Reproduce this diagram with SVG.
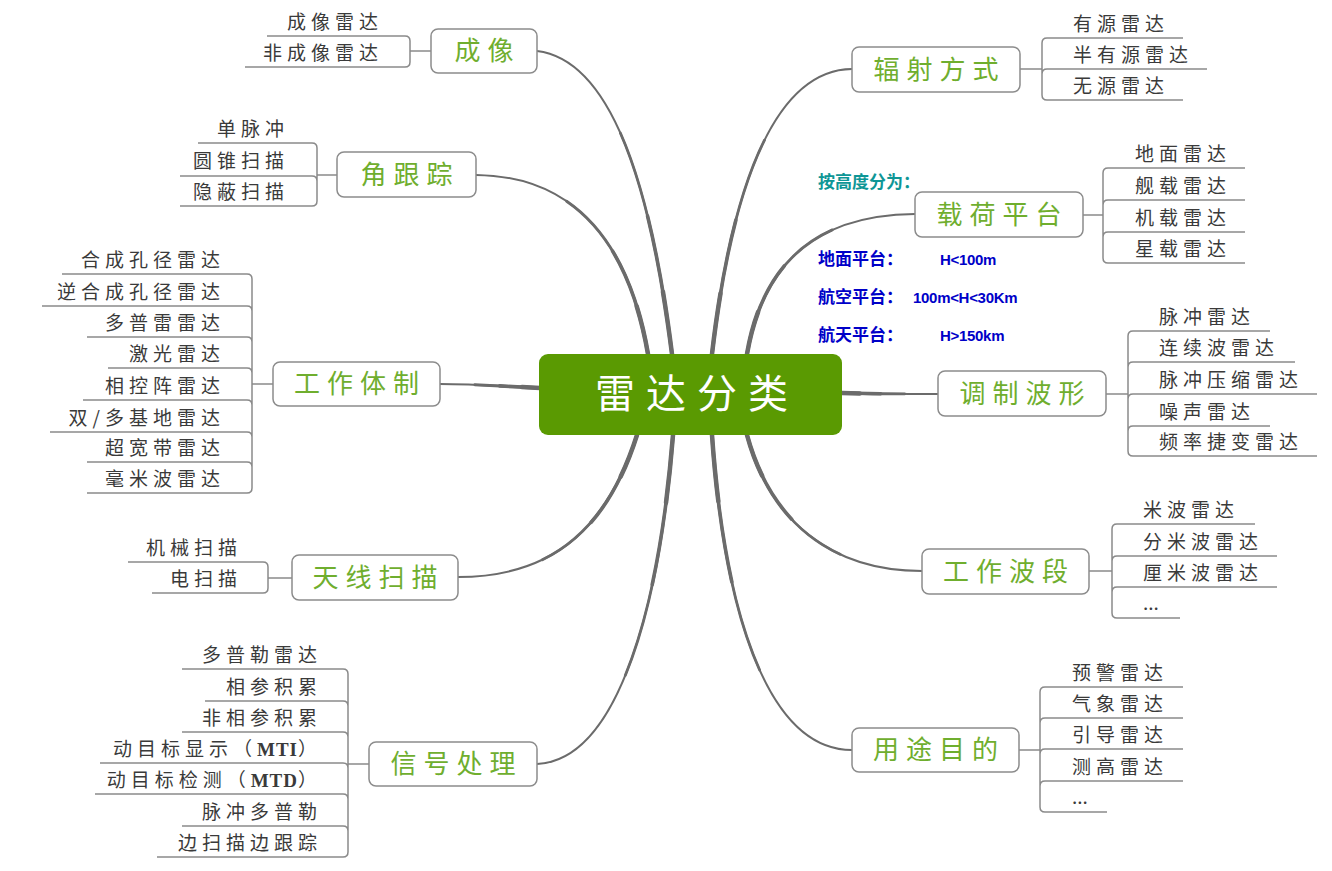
<svg xmlns="http://www.w3.org/2000/svg" xmlns:xlink="http://www.w3.org/1999/xlink" width="1332" height="871" viewBox="0 0 1332 871">
<style>
.bg{fill:#ffffff}
.main{fill:none;stroke:#6b6b6b;stroke-linecap:round}
.w1{stroke-width:2}
.w2{stroke-width:2.8;stroke-dasharray:65 300}
.w3{stroke-width:3.6;stroke-dasharray:40 300}
.w4{stroke-width:4.5;stroke-dasharray:18 300}
.br{fill:none;stroke:#8a8a8a;stroke-width:1.5}
.node rect{fill:#ffffff;stroke:#8c8c8c;stroke-width:1.5}
.nt{font-family:"Noto Sans CJK SC","Noto Sans",sans-serif;font-size:26px;letter-spacing:7px;fill:#6fae2e;text-anchor:middle}
.lf{font-family:"Noto Sans CJK SC","Noto Sans",sans-serif;font-size:19px;letter-spacing:5px;fill:#3a3a3a}
.le{text-anchor:end}
.dots{letter-spacing:0px}
.ser{font-family:"Liberation Serif",serif;font-weight:bold;letter-spacing:1px}
.ann{font-family:"Noto Sans CJK SC","Noto Sans",sans-serif;font-size:17px;font-weight:bold}
.annl{font-family:"Liberation Sans",sans-serif;font-size:15px;font-weight:bold;letter-spacing:-0.3px}
.teal{fill:#0e9696}
.blue{fill:#0000c8}
</style>
<defs>
<path id="p1" pathLength="100" d="M672,354 C650,180 610,60 537,51"/>
<path id="p2" pathLength="100" d="M648,354 C630,250 580,176 476,175"/>
<path id="p3" pathLength="100" d="M540,388 C500,386 470,384 440,384"/>
<path id="p4" pathLength="100" d="M637,435 C610,520 560,577 458,577"/>
<path id="p5" pathLength="100" d="M673,435 C660,600 620,760 537,764"/>
<path id="p6" pathLength="100" d="M712,354 C730,200 770,70 852,69"/>
<path id="p7" pathLength="100" d="M747,354 C760,280 800,215 915,214"/>
<path id="p8" pathLength="100" d="M842,393 C880,394 910,394 938,394"/>
<path id="p9" pathLength="100" d="M747,435 C770,520 830,571 922,571"/>
<path id="p10" pathLength="100" d="M712,435 C725,620 770,750 852,750"/>
</defs>
<rect class="bg" x="0" y="0" width="1332" height="871"/>

<g id="connectors">
<g class="main">
<use xlink:href="#p1" class="w1"/><use xlink:href="#p1" class="w2"/><use xlink:href="#p1" class="w3"/><use xlink:href="#p1" class="w4"/>
<use xlink:href="#p2" class="w1"/><use xlink:href="#p2" class="w2"/><use xlink:href="#p2" class="w3"/><use xlink:href="#p2" class="w4"/>
<use xlink:href="#p3" class="w1"/><use xlink:href="#p3" class="w2"/><use xlink:href="#p3" class="w3"/><use xlink:href="#p3" class="w4"/>
<use xlink:href="#p4" class="w1"/><use xlink:href="#p4" class="w2"/><use xlink:href="#p4" class="w3"/><use xlink:href="#p4" class="w4"/>
<use xlink:href="#p5" class="w1"/><use xlink:href="#p5" class="w2"/><use xlink:href="#p5" class="w3"/><use xlink:href="#p5" class="w4"/>
<use xlink:href="#p6" class="w1"/><use xlink:href="#p6" class="w2"/><use xlink:href="#p6" class="w3"/><use xlink:href="#p6" class="w4"/>
<use xlink:href="#p7" class="w1"/><use xlink:href="#p7" class="w2"/><use xlink:href="#p7" class="w3"/><use xlink:href="#p7" class="w4"/>
<use xlink:href="#p8" class="w1"/><use xlink:href="#p8" class="w2"/><use xlink:href="#p8" class="w3"/><use xlink:href="#p8" class="w4"/>
<use xlink:href="#p9" class="w1"/><use xlink:href="#p9" class="w2"/><use xlink:href="#p9" class="w3"/><use xlink:href="#p9" class="w4"/>
<use xlink:href="#p10" class="w1"/><use xlink:href="#p10" class="w2"/><use xlink:href="#p10" class="w3"/><use xlink:href="#p10" class="w4"/>
</g>
<g class="br">
<path d="M267,36 H405 Q410,36 410,41 V62 Q410,67 405,67 H245 M410,51 H431"/>
<path d="M198,143 H312 Q317,143 317,148 V201 Q317,206 312,206 H180 M180,176 H312 Q317,176 317,181 M317,175 H337"/>
<path d="M62,274 H247 Q252,274 252,279 V488 Q252,493 247,493 H87 M42,306 H247 Q252,306 252,311 M87,337 H247 Q252,337 252,342 M108,368 H247 Q252,368 252,373 M83,400 H247 Q252,400 252,405 M50,432 H247 Q252,432 252,437 M87,462 H247 Q252,462 252,467 M252,384 H273"/>
<path d="M128,562 H263 Q268,562 268,567 V588 Q268,593 263,593 H152 M268,578 H292"/>
<path d="M182,669 H343 Q348,669 348,674 V852 Q348,857 343,857 H157 M205,701 H343 Q348,701 348,706 M182,732 H343 Q348,732 348,737 M100,763 H343 Q348,763 348,768 M95,794 H343 Q348,794 348,799 M182,826 H343 Q348,826 348,831 M348,764 H369"/>
<path d="M1183,38 H1047 Q1042,38 1042,43 V95 Q1042,100 1047,100 H1183 M1207,69 H1047 Q1042,69 1042,74 M1020,69 H1042"/>
<path d="M1245,168 H1108 Q1103,168 1103,173 V258 Q1103,263 1108,263 H1245 M1245,200 H1108 Q1103,200 1103,205 M1245,232 H1108 Q1103,232 1103,237 M1083,215 H1103"/>
<path d="M1270,331 H1133 Q1128,331 1128,336 V451 Q1128,456 1133,456 H1317 M1295,362 H1133 Q1128,362 1128,367 M1317,394 H1133 Q1128,394 1128,399 M1270,426 H1133 Q1128,426 1128,431 M1106,394 H1128"/>
<path d="M1255,524 H1117 Q1112,524 1112,529 V613 Q1112,618 1117,618 H1180 M1277,556 H1117 Q1112,556 1112,561 M1277,587 H1117 Q1112,587 1112,592 M1089,571 H1112"/>
<path d="M1183,687 H1045 Q1040,687 1040,692 V807 Q1040,812 1045,812 H1107 M1183,718 H1045 Q1040,718 1040,723 M1183,749 H1045 Q1040,749 1040,754 M1183,781 H1045 Q1040,781 1040,786 M1019,750 H1040"/>
</g>
</g>

<g id="n-chengxiang" class="node">
<rect x="431" y="29" width="106" height="44" rx="7"/>
<text class="nt" x="487.5" y="60">成像</text>
<text class="lf le" x="383" y="29">成像雷达</text>
<text class="lf le" x="383" y="60">非成像雷达</text>
</g>

<g id="n-jiaogenzong" class="node">
<rect x="337" y="152" width="139" height="45" rx="7"/>
<text class="nt" x="410" y="184">角跟踪</text>
<text class="lf le" x="289" y="136">单脉冲</text>
<text class="lf le" x="289" y="168">圆锥扫描</text>
<text class="lf le" x="289" y="199">隐蔽扫描</text>
</g>

<g id="n-gongzuotizhi" class="node">
<rect x="273" y="362" width="167" height="44" rx="7"/>
<text class="nt" x="360" y="393">工作体制</text>
<text class="lf le" x="225" y="267">合成孔径雷达</text>
<text class="lf le" x="225" y="299">逆合成孔径雷达</text>
<text class="lf le" x="225" y="330">多普雷雷达</text>
<text class="lf le" x="225" y="361">激光雷达</text>
<text class="lf le" x="225" y="393">相控阵雷达</text>
<text class="lf le" x="225" y="425">双/多基地雷达</text>
<text class="lf le" x="225" y="455">超宽带雷达</text>
<text class="lf le" x="225" y="486">毫米波雷达</text>
</g>

<g id="n-tianxiansaomiao" class="node">
<rect x="292" y="555" width="166" height="45" rx="7"/>
<text class="nt" x="378.5" y="587">天线扫描</text>
<text class="lf le" x="242" y="555">机械扫描</text>
<text class="lf le" x="242" y="586">电扫描</text>
</g>

<g id="n-xinhaochuli" class="node">
<rect x="369" y="742" width="168" height="44" rx="7"/>
<text class="nt" x="456.5" y="773">信号处理</text>
<text class="lf le" x="322" y="662">多普勒雷达</text>
<text class="lf le" x="322" y="694">相参积累</text>
<text class="lf le" x="322" y="725">非相参积累</text>
<text class="lf le" x="322" y="756">动目标显示（<tspan class="ser">MTI</tspan>）</text>
<text class="lf le" x="322" y="787">动目标检测（<tspan class="ser">MTD</tspan>）</text>
<text class="lf le" x="322" y="819">脉冲多普勒</text>
<text class="lf le" x="322" y="850">边扫描边跟踪</text>
</g>

<g id="n-fushefangshi" class="node">
<rect x="852" y="47" width="168" height="45" rx="7"/>
<text class="nt" x="939.5" y="79">辐射方式</text>
<text class="lf" x="1073" y="31">有源雷达</text>
<text class="lf" x="1073" y="62">半有源雷达</text>
<text class="lf" x="1073" y="93">无源雷达</text>
</g>

<g id="n-zaihepingtai" class="node">
<rect x="915" y="192" width="168" height="45" rx="7"/>
<text class="nt" x="1002.5" y="224">载荷平台</text>
<text class="lf" x="1135" y="161">地面雷达</text>
<text class="lf" x="1135" y="193">舰载雷达</text>
<text class="lf" x="1135" y="225">机载雷达</text>
<text class="lf" x="1135" y="256">星载雷达</text>
</g>

<g id="n-tiaozhiboxing" class="node">
<rect x="938" y="371" width="168" height="45" rx="7"/>
<text class="nt" x="1025.5" y="403">调制波形</text>
<text class="lf" x="1159" y="324">脉冲雷达</text>
<text class="lf" x="1159" y="355">连续波雷达</text>
<text class="lf" x="1159" y="387">脉冲压缩雷达</text>
<text class="lf" x="1159" y="419">噪声雷达</text>
<text class="lf" x="1159" y="449">频率捷变雷达</text>
</g>

<g id="n-gongzuoboduan" class="node">
<rect x="922" y="549" width="167" height="45" rx="7"/>
<text class="nt" x="1009" y="581">工作波段</text>
<text class="lf" x="1143" y="517">米波雷达</text>
<text class="lf" x="1143" y="549">分米波雷达</text>
<text class="lf" x="1143" y="580">厘米波雷达</text>
<text class="lf dots" x="1143" y="610">...</text>
</g>

<g id="n-yongtumudi" class="node">
<rect x="852" y="728" width="167" height="44" rx="7"/>
<text class="nt" x="939" y="759">用途目的</text>
<text class="lf" x="1072" y="680">预警雷达</text>
<text class="lf" x="1072" y="711">气象雷达</text>
<text class="lf" x="1072" y="742">引导雷达</text>
<text class="lf" x="1072" y="774">测高雷达</text>
<text class="lf dots" x="1072" y="804">...</text>
</g>

<g id="annotation">
<text class="ann teal" x="818" y="188">按高度分为：</text>
<text class="ann blue" x="818" y="265">地面平台：</text>
<text class="annl blue" x="940" y="265">H&lt;100m</text>
<text class="ann blue" x="818" y="303">航空平台：</text>
<text class="annl blue" x="913" y="303">100m&lt;H&lt;30Km</text>
<text class="ann blue" x="818" y="341">航天平台：</text>
<text class="annl blue" x="940" y="341">H&gt;150km</text>
</g>

<g id="n-center">
<rect x="539" y="354" width="303" height="81" rx="9" fill="#5a9a02"/>
<text x="697" y="408" font-family="'Noto Sans CJK SC','Noto Sans',sans-serif" font-size="40" letter-spacing="11" fill="#ffffff" text-anchor="middle">雷达分类</text>
</g>
</svg>
